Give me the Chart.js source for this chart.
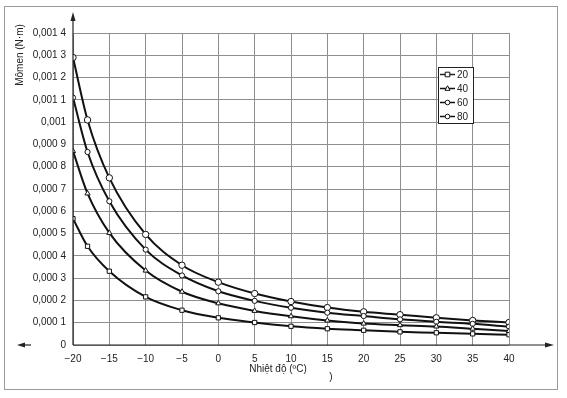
<!DOCTYPE html>
<html>
<head>
<meta charset="utf-8">
<script src="https://cdn.jsdelivr.net/npm/chart.js@4/dist/chart.umd.min.js"></script>
<style>
  html, body { margin: 0; padding: 0; background: #fff; }
</style>
</head>
<body>
<canvas id="myChart" width="567" height="398"></canvas>
<script>
// nhiệt độ (°C)
var temps = [-20, -18, -15, -10, -5, 0, 5, 10, 15, 20, 25, 30, 35, 40];

// mômen (N·m) cho từng đường
var series20 = [0.000567, 0.000443, 0.000331, 0.000216, 0.000156, 0.000122, 0.000101, 0.000084, 0.000073, 0.000066, 0.000059, 0.000055, 0.000050, 0.000046];
var series40 = [0.000870, 0.000680, 0.000503, 0.000334, 0.000239, 0.000187, 0.000153, 0.000129, 0.000110, 0.000096, 0.000089, 0.000083, 0.000073, 0.000063];
var series60 = [0.001110, 0.000866, 0.000645, 0.000428, 0.000312, 0.000241, 0.000198, 0.000167, 0.000145, 0.000130, 0.000115, 0.000104, 0.000095, 0.000082];
var series80 = [0.001290, 0.001010, 0.000750, 0.000496, 0.000358, 0.000282, 0.000231, 0.000195, 0.000168, 0.000149, 0.000136, 0.000122, 0.000110, 0.000101];

var seriesNames = ['20', '40', '60', '80'];
var yTickLabels = ['0', '0,000 1', '0,000 2', '0,000 3', '0,000 4', '0,000 5', '0,000 6', '0,000 7',
                   '0,000 8', '0,000 9', '0,001', '0,001 1', '0,001 2', '0,001 3', '0,001 4'];

var FONT = '"Liberation Sans", Arial, sans-serif';
var styles = ['rect', 'triangle', 'circle', 'circle'];
var radii = [3, 3, 2.6, 3.2];

function pts(arr) {
    return temps.map(function (t, i) { return { x: t, y: arr[i] }; });
}

function mkSet(label, arr, i) {
    return {
        label: label,
        data: pts(arr),
        borderColor: '#111',
        borderWidth: 2,
        backgroundColor: '#fff',
        pointStyle: styles[i],
        pointRadius: radii[i],
        pointBorderWidth: 1,
        pointBorderColor: '#111',
        pointBackgroundColor: '#fff',
        cubicInterpolationMode: 'monotone',
        fill: false
    };
}

function marker(ctx, style, x, y, r) {
    ctx.beginPath();
    if (style === 'rect') {
        ctx.rect(x - r, y - r, r * 2, r * 2);
    } else if (style === 'triangle') {
        ctx.moveTo(x, y - r * 1.2);
        ctx.lineTo(x + r * 1.1, y + r * 0.8);
        ctx.lineTo(x - r * 1.1, y + r * 0.8);
        ctx.closePath();
    } else {
        ctx.arc(x, y, r, 0, Math.PI * 2);
    }
    ctx.fillStyle = '#fff';
    ctx.fill();
    ctx.lineWidth = 1;
    ctx.strokeStyle = '#111';
    ctx.stroke();
}

var extras = {
    id: 'extras',
    beforeDraw: function (chart) {
        var ctx = chart.ctx;
        ctx.save();
        ctx.strokeStyle = '#9a9a9a';
        ctx.lineWidth = 1;
        ctx.strokeRect(4.5, 6.5, 553, 383);
        ctx.restore();
    },
    afterDraw: function (chart) {
        var ctx = chart.ctx;
        var xs = chart.scales.x, ys = chart.scales.y;
        var x0 = xs.getPixelForValue(-20);
        var y0 = ys.getPixelForValue(0);
        ctx.save();
        ctx.strokeStyle = '#222';
        ctx.fillStyle = '#222';
        ctx.lineWidth = 1.2;

        // trục tung + mũi tên
        ctx.beginPath();
        ctx.moveTo(x0, y0);
        ctx.lineTo(x0, 18);
        ctx.stroke();
        ctx.beginPath();
        ctx.moveTo(x0, 12);
        ctx.lineTo(x0 - 2.5, 21);
        ctx.lineTo(x0 + 2.5, 21);
        ctx.closePath();
        ctx.fill();

        // trục hoành + mũi tên
        ctx.beginPath();
        ctx.moveTo(x0, y0);
        ctx.lineTo(546, y0);
        ctx.stroke();
        ctx.beginPath();
        ctx.moveTo(554, y0);
        ctx.lineTo(545, y0 - 2.5);
        ctx.lineTo(545, y0 + 2.5);
        ctx.closePath();
        ctx.fill();

        // mũi tên nhỏ bên trái số 0
        ctx.beginPath();
        ctx.moveTo(24, y0);
        ctx.lineTo(31, y0);
        ctx.stroke();
        ctx.beginPath();
        ctx.moveTo(17, y0);
        ctx.lineTo(25, y0 - 2.5);
        ctx.lineTo(25, y0 + 2.5);
        ctx.closePath();
        ctx.fill();

        // tên trục
        ctx.font = '10px ' + FONT;
        ctx.fillStyle = '#222';
        ctx.textAlign = 'center';
        ctx.textBaseline = 'middle';
        ctx.fillText('Nhiệt độ (ºC)', 278, 369);
        ctx.fillText(')', 331, 377);
        ctx.save();
        ctx.translate(20, 55);
        ctx.rotate(-Math.PI / 2);
        ctx.fillText('Mômen (N·m)', 0, 0);
        ctx.restore();

        // chú giải
        ctx.fillStyle = '#fff';
        ctx.fillRect(438, 67, 36, 57);
        ctx.strokeStyle = '#222';
        ctx.lineWidth = 1;
        ctx.strokeRect(438.5, 67.5, 35, 56);
        for (var i = 0; i < seriesNames.length; i++) {
            var ly = 74.5 + i * 14;
            ctx.beginPath();
            ctx.lineWidth = 1.5;
            ctx.moveTo(440, ly);
            ctx.lineTo(455, ly);
            ctx.stroke();
            marker(ctx, styles[i], 447.5, ly, 2.3);
            ctx.fillStyle = '#222';
            ctx.textAlign = 'left';
            ctx.fillText(seriesNames[i], 457, ly + 0.5);
        }
        ctx.restore();
    }
};

var ctx = document.getElementById('myChart').getContext('2d');
var chart = new Chart(ctx, {
    type: 'line',
    data: {
        datasets: [
            mkSet('20', series20, 0),
            mkSet('40', series40, 1),
            mkSet('60', series60, 2),
            mkSet('80', series80, 3)
        ]
    },
    options: {
        responsive: false,
        animation: false,
        layout: { padding: { left: 0, top: 33, right: 58, bottom: 0 } },
        plugins: {
            legend: { display: false },
            tooltip: { enabled: false }
        },
        scales: {
            x: {
                type: 'linear',
                min: -20,
                max: 40,
                ticks: {
                    stepSize: 5,
                    padding: 8,
                    color: '#222',
                    font: { family: FONT, size: 10 },
                    callback: function (v) { return v < 0 ? '\u2212' + (-v) : String(v); }
                },
                grid: { color: '#8e8e8e', lineWidth: 1, drawTicks: false },
                border: { display: false },
                afterFit: function (s) { s.height = 53; }
            },
            y: {
                min: 0,
                max: 0.0014,
                ticks: {
                    stepSize: 0.0001,
                    padding: 7,
                    color: '#222',
                    font: { family: FONT, size: 10 },
                    callback: function (v) { return yTickLabels[Math.round(v / 0.0001)]; }
                },
                grid: { color: '#8e8e8e', lineWidth: 1, drawTicks: false },
                border: { display: false },
                afterFit: function (s) { s.width = 73; }
            }
        }
    },
    plugins: [extras]
});
</script>
</body>
</html>
